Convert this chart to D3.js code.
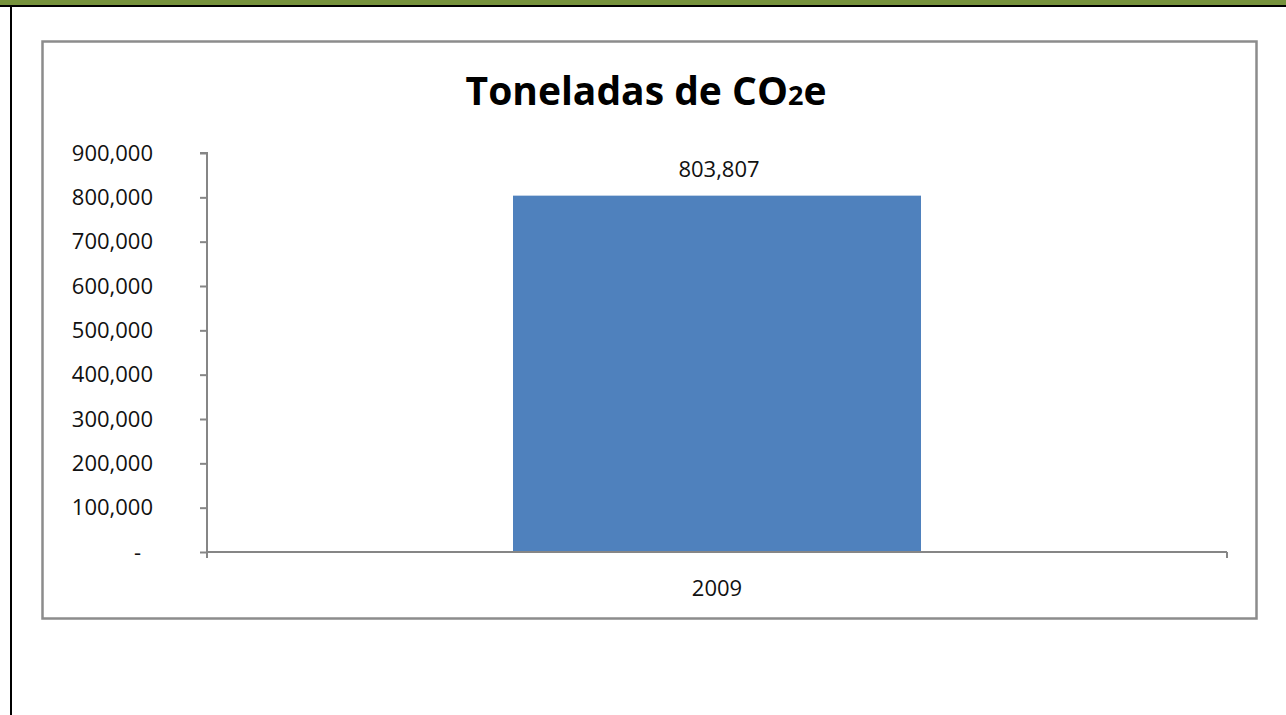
<!DOCTYPE html>
<html>
<head>
<meta charset="utf-8">
<script src="https://cdn.jsdelivr.net/npm/d3@7"></script>
<style>
  body { margin: 0; background: #fff; }
  svg { display: block; font-family: "Open Sans", sans-serif; }
</style>
</head>
<body>
<div id="chart"></div>
<script>
//data
const years = ["2009"];
const tons = [803807];
const yTicks = [0, 100000, 200000, 300000, 400000, 500000, 600000, 700000, 800000, 900000];

const width = 1286, height = 715;
const plot = { left: 207, right: 1227, top: 153, bottom: 552 };
const labelSize = 22;

const svg = d3.select("#chart").append("svg")
  .attr("width", width)
  .attr("height", height);

//page frame: green strip, black rule and left border
svg.append("rect").attr("x", 0).attr("y", 0).attr("width", width).attr("height", 5).attr("fill", "#76923c");
svg.append("rect").attr("x", 0).attr("y", 5).attr("width", width).attr("height", 2).attr("fill", "#000");
svg.append("rect").attr("x", 10).attr("y", 5).attr("width", 2).attr("height", height).attr("fill", "#000");

//chart area box
svg.append("rect")
  .attr("x", 42.5).attr("y", 41.5)
  .attr("width", 1214).attr("height", 577)
  .attr("fill", "#fff")
  .attr("stroke", "#8c8c8c")
  .attr("stroke-width", 2.5);

//title
const title = svg.append("text")
  .attr("x", 646)
  .attr("y", 105)
  .attr("text-anchor", "middle")
  .attr("font-size", 39)
  .attr("font-weight", "bold")
  .attr("fill", "#000");
title.append("tspan").text("Toneladas de CO");
title.append("tspan").attr("font-size", 27).text("2");
title.append("tspan").text("e");

//scales
const x = d3.scaleBand().domain(years).range([plot.left, plot.right]).padding(0);
const y = d3.scaleLinear().domain([0, 900000]).range([plot.bottom, plot.top]);

const fmt = d3.format(",");

//y axis
const yAxis = svg.append("g")
  .attr("transform", `translate(${plot.left},0)`)
  .call(d3.axisLeft(y).tickValues(yTicks).tickSize(7).tickPadding(47)
    .tickFormat(d => d === 0 ? "-" : fmt(d)));
yAxis.select(".domain").attr("stroke", "#868686").attr("stroke-width", 2)
  .attr("d", `M-7,${plot.top}H0V${plot.bottom + 6}`);
yAxis.selectAll(".tick line").attr("stroke", "#868686").attr("stroke-width", 2);
yAxis.selectAll(".tick text")
  .attr("font-size", labelSize)
  .attr("font-family", "Open Sans, sans-serif")
  .attr("fill", "#111")
  .attr("dx", d => d === 0 ? -12 : 0);

//bars
const barW = x.bandwidth() * 0.4;
svg.selectAll(".bar")
  .data(tons)
  .enter()
  .append("rect")
  .attr("class", "bar")
  .attr("x", (d, i) => x(years[i]) + (x.bandwidth() - barW) / 2)
  .attr("y", d => y(d))
  .attr("width", barW)
  .attr("height", d => y(0) - y(d))
  .attr("fill", "#4f81bd");

//value labels
svg.selectAll(".val")
  .data(tons)
  .enter()
  .append("text")
  .attr("class", "val")
  .attr("x", (d, i) => x(years[i]) + x.bandwidth() / 2 + 2)
  .attr("y", d => y(d) - 19)
  .attr("text-anchor", "middle")
  .attr("font-size", labelSize)
  .attr("fill", "#111")
  .text(d => fmt(d));

//x axis
const xAxis = svg.append("g")
  .attr("transform", `translate(0,${plot.bottom})`)
  .call(d3.axisBottom(x).tickSize(0).tickPadding(28));
xAxis.select(".domain").remove();
xAxis.selectAll(".tick text")
  .attr("font-size", labelSize)
  .attr("font-family", "Open Sans, sans-serif")
  .attr("fill", "#111");
xAxis.append("line")
  .attr("x1", plot.left).attr("x2", plot.right)
  .attr("stroke", "#868686").attr("stroke-width", 2);
//category boundary ticks
const bounds = [plot.left].concat(years.map(d => x(d) + x.bandwidth()));
xAxis.selectAll(".bound")
  .data(bounds)
  .enter()
  .append("line")
  .attr("class", "bound")
  .attr("x1", d => d).attr("x2", d => d)
  .attr("y1", 0).attr("y2", 6)
  .attr("stroke", "#868686").attr("stroke-width", 2);
</script>
</body>
</html>
